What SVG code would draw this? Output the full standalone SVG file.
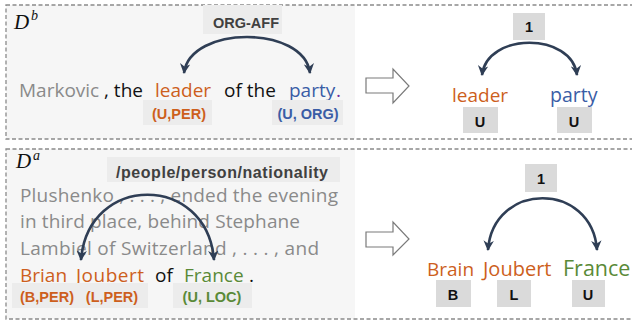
<svg xmlns="http://www.w3.org/2000/svg" width="632" height="325" viewBox="0 0 632 325">
<defs>
<style>
.frame{fill:none;stroke:#8a8a8a;stroke-width:1.3;stroke-dasharray:4,2.5}
.panel{fill:#f6f6f6}
.lbox{fill:#ececec}
.tbox{fill:#dadada}
.w{font-family:"Open Sans","Noto Sans",sans-serif}
.b{font-family:"Liberation Sans",Arial,sans-serif;font-weight:bold}
.gray{fill:#8a8a8a}
.blk{fill:#111}
.or{fill:#cd5f1d}
.bl{fill:#3a5da6}
.gr{fill:#5a8a38}
.arc{fill:none;stroke:#2f3e55;stroke-width:2.6;marker-end:url(#ah);marker-start:url(#ahs)}
.harrow{fill:#fff;stroke:#7a7a7a;stroke-width:1.2}
.math{font-family:"Liberation Serif","DejaVu Serif",serif;font-style:italic;fill:#111}
</style>
<marker id="ah" viewBox="0 0 10 10" refX="9" refY="5" markerWidth="4" markerHeight="4" orient="auto" markerUnits="strokeWidth">
<path d="M0,0 L10,5 L0,10 L3,5 Z" fill="#2f3e55"/>
</marker>
<marker id="ahs" viewBox="0 0 10 10" refX="9" refY="5" markerWidth="4" markerHeight="4" orient="auto-start-reverse" markerUnits="strokeWidth">
<path d="M0,0 L10,5 L0,10 L3,5 Z" fill="#2f3e55"/>
</marker>
</defs>

<!-- frames and panels -->
<rect class="panel" x="6" y="5" width="349" height="134"/>
<rect class="panel" x="6" y="149" width="349" height="170"/>
<rect class="frame" x="6" y="5" width="640" height="134"/>
<rect class="frame" x="6" y="149" width="640" height="170"/>

<!-- Top left: D^b -->
<g id="Db">
<text class="math" x="14" y="29" font-size="21">D</text>
<text class="math" x="31" y="20" font-size="14">b</text>
</g>

<g id="top-rel">
<rect class="lbox" x="203" y="5" width="79" height="29"/>
<text class="b" x="246" y="28" font-size="14.5" text-anchor="middle" fill="#404040">ORG-AFF</text>
</g>

<g id="top-sentence" class="w" font-size="19">
<text class="gray" x="19" y="97">Markovic</text>
<text class="blk" x="104" y="97">, the</text>
<text class="or" x="155" y="97">leader</text>
<text class="blk" x="224" y="97">of the</text>
<text class="bl" x="289" y="97">party</text>
<text x="336" y="97" fill="#7030a0">.</text>
</g>

<g id="top-leader-label">
<rect class="lbox" x="143" y="100" width="69" height="25"/>
<text class="b or" x="179" y="119" font-size="14.5" text-anchor="middle">(U,PER)</text>
</g>
<g id="top-party-label">
<rect class="lbox" x="272" y="100" width="71" height="25"/>
<text class="b bl" x="308" y="119" font-size="14.5" text-anchor="middle">(U, ORG)</text>
</g>

<g id="top-arrow">
<path class="harrow" d="M366,78 L393,78 L393,69 L409,86 L393,103 L393,93 L366,93 Z"/>
</g>

<g id="top-right-rel">
<rect class="tbox" x="513" y="13" width="32" height="27"/>
<text class="b" x="529" y="32" font-size="14.5" text-anchor="middle" fill="#111">1</text>
</g>
<g id="top-right-leader">
<text class="w or" x="452" y="102" font-size="19">leader</text>
<rect class="tbox" x="463" y="107" width="35" height="26"/>
<text class="b" x="480" y="127" font-size="14.5" text-anchor="middle" fill="#111">U</text>
</g>
<g id="top-right-party">
<text class="w bl" x="550" y="102" font-size="19.5">party</text>
<rect class="tbox" x="557" y="107" width="35" height="26"/>
<text class="b" x="574" y="127" font-size="14.5" text-anchor="middle" fill="#111">U</text>
</g>

<!-- Bottom left: D^a -->
<g id="Da">
<text class="math" x="16" y="168" font-size="21">D</text>
<text class="math" x="33" y="160" font-size="14">a</text>
</g>

<g id="bottom-rel">
<rect class="lbox" x="107" y="157" width="233" height="25"/>
<text class="b" x="116" y="178" font-size="16" textLength="212" fill="#404040">/people/person/nationality</text>
</g>

<g id="bottom-sentence" class="w" font-size="19">
<text class="gray" x="20" y="202" textLength="318">Plushenko , . . . , ended the evening</text>
<text class="gray" x="20" y="228" textLength="280">in third place, behind Stephane</text>
<text class="gray" x="20" y="255" textLength="299">Lambiel of Switzerland , . . . , and</text>
<text class="or" x="20" y="282">Brian</text>
<text class="or" x="76" y="282" textLength="68">Joubert</text>
<text class="blk" x="155" y="282">of</text>
<text class="gr" x="184" y="282">France</text>
<text class="blk" x="249" y="282">.</text>
</g>

<g id="bottom-person-label">
<rect class="lbox" x="12" y="283" width="136" height="25"/>
<text class="b or" x="47" y="302" font-size="14.5" text-anchor="middle">(B,PER)</text>
<text class="b or" x="112" y="302" font-size="14.5" text-anchor="middle">(L,PER)</text>
</g>
<g id="bottom-loc-label">
<rect class="lbox" x="173" y="283" width="79" height="25"/>
<text class="b gr" x="212" y="302" font-size="14.5" text-anchor="middle">(U, LOC)</text>
</g>

<g id="bottom-arrow">
<path class="harrow" d="M366,232 L393,232 L393,222 L409,239 L393,255 L393,247 L366,247 Z"/>
</g>

<g id="bottom-right-rel">
<rect class="tbox" x="525" y="164" width="32" height="28"/>
<text class="b" x="541" y="184" font-size="14.5" text-anchor="middle" fill="#111">1</text>
</g>
<g id="bottom-right-brain">
<text class="w or" x="427" y="276" font-size="19">Brain</text>
<rect class="tbox" x="436" y="280" width="35" height="27"/>
<text class="b" x="453" y="300" font-size="14.5" text-anchor="middle" fill="#111">B</text>
</g>
<g id="bottom-right-joubert">
<text class="w or" x="483" y="276" font-size="20">Joubert</text>
<rect class="tbox" x="497" y="280" width="34" height="27"/>
<text class="b" x="514" y="300" font-size="14.5" text-anchor="middle" fill="#111">L</text>
</g>
<g id="bottom-right-france">
<text class="w gr" x="563" y="276" font-size="21.5">France</text>
<rect class="tbox" x="572" y="280" width="33" height="27"/>
<text class="b" x="588" y="300" font-size="14.5" text-anchor="middle" fill="#111">U</text>
</g>

<!-- connectors -->
<g id="connectors">
<path class="arc" d="M184,73 C190,25 304,25 310,73"/>
<path class="arc" d="M482,75 C487,32 572,32 577,75"/>
<path class="arc" d="M81,260 C88,173 207,173 214,260"/>
<path class="arc" d="M488,250 C493,181 592,181 597,250"/>
</g>
</svg>
